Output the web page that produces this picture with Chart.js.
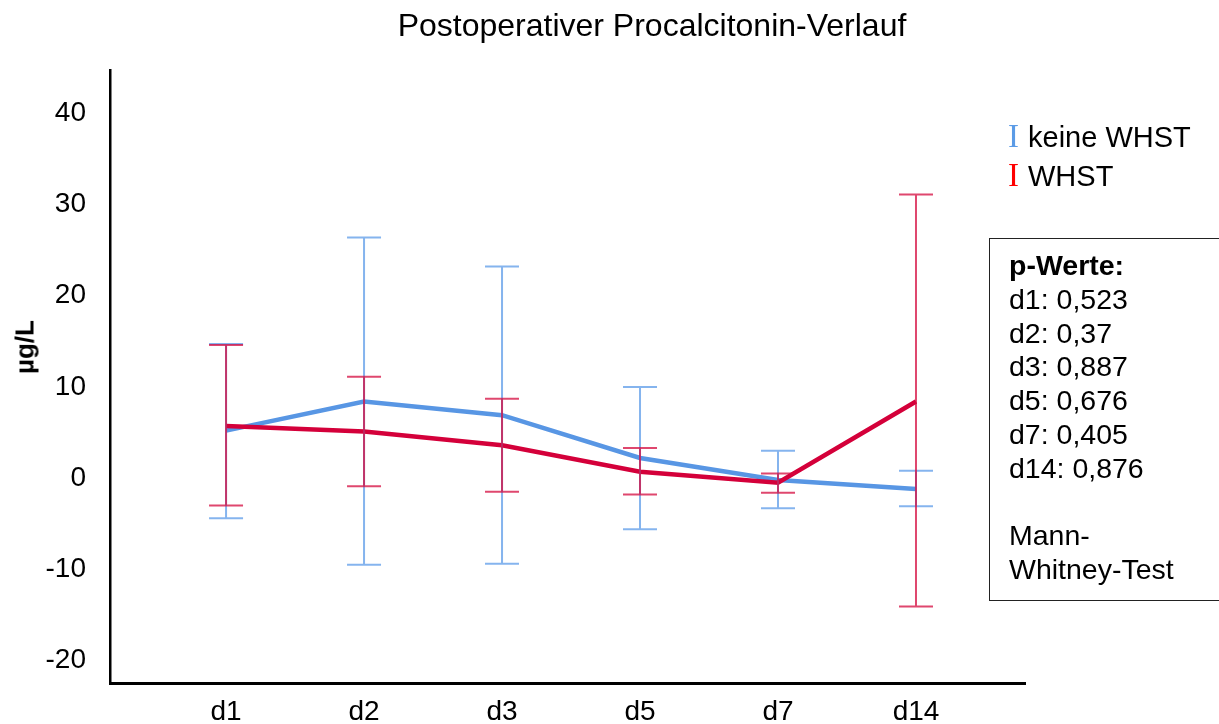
<!DOCTYPE html>
<html>
<head>
<meta charset="utf-8">
<script src="https://cdn.jsdelivr.net/npm/chart.js@4.4.1/dist/chart.umd.min.js"></script>
<style>
  html, body { margin: 0; padding: 0; background: #fff; }
  #wrap { position: relative; width: 1219px; height: 724px; overflow: hidden; font-family: "Liberation Sans", Arial, sans-serif; color: #000; }
  #c { position: absolute; left: 0; top: 0; }
  #title { position: absolute; left: 652px; top: 7px; transform: translateX(-50%); font-size: 32px; white-space: nowrap; }
  #ytitle { position: absolute; left: 25px; top: 347px; transform: translate(-50%, -50%) rotate(-90deg); font-size: 26px; font-weight: bold; white-space: nowrap; }
  #legend { position: absolute; left: 1008px; top: 117px; font-size: 29px; line-height: 38px; white-space: nowrap; }
  #legend .mk { font-family: "Liberation Serif", "DejaVu Serif", serif; font-size: 33px; margin-right: 9px; }
  #pbox { position: absolute; left: 989px; top: 238px; width: 250px; height: 363px; border: 1.5px solid #222; box-sizing: border-box; padding: 10px 0 0 19px; font-size: 28.5px; line-height: 33.8px; white-space: nowrap; }
</style>
</head>
<body>
<div id="wrap">
  <canvas id="c" width="1219" height="724"></canvas>
  <div id="title">Postoperativer Procalcitonin-Verlauf</div>
  <div id="ytitle">µg/L</div>
  <div id="legend">
    <div><span class="mk" style="color:#5b9be6">I</span>keine WHST</div>
    <div><span class="mk" style="color:#ff0000">I</span>WHST</div>
  </div>
  <div id="pbox">
    <b>p-Werte:</b><br>
    d1: 0,523<br>
    d2: 0,37<br>
    d3: 0,887<br>
    d5: 0,676<br>
    d7: 0,405<br>
    d14: 0,876<br>
    <br>
    Mann-<br>
    Whitney-Test
  </div>
</div>
<script>
const categories = ['d1', 'd2', 'd3', 'd5', 'd7', 'd14'];
const yTickValues = [-20, -10, 0, 10, 20, 30, 40];

const keineMean  = [5.2, 8.4, 6.9, 2.2, -0.2, -1.2];
const keineUpper = [14.7, 26.4, 23.2, 10.0, 3.0, 0.8];
const keineLower = [-4.4, -9.5, -9.4, -5.6, -3.3, -3.1];

const whstMean  = [5.7, 5.1, 3.6, 0.7, -0.5, 8.4];
const whstUpper = [14.6, 11.1, 8.7, 3.3, 0.5, 31.1];
const whstLower = [-3.0, -0.9, -1.5, -1.8, -1.6, -14.1];

const errorBarPlugin = {
  id: 'errorBars',
  afterDatasetsDraw(chart) {
    const ctx = chart.ctx;
    const xs = chart.scales.x, ys = chart.scales.y;
    chart.data.datasets.forEach((ds) => {
      if (!ds.errUpper) return;
      ctx.save();
      ctx.strokeStyle = ds.errColor;
      ctx.lineWidth = 2;
      ds.errUpper.forEach((up, i) => {
        const x = xs.getPixelForValue(i);
        const yt = ys.getPixelForValue(up);
        const yb = ys.getPixelForValue(ds.errLower[i]);
        const half = 17;
        ctx.beginPath();
        ctx.moveTo(x, yt); ctx.lineTo(x, yb);
        ctx.moveTo(x - half, yt); ctx.lineTo(x + half, yt);
        ctx.moveTo(x - half, yb); ctx.lineTo(x + half, yb);
        ctx.stroke();
      });
      ctx.restore();
    });
  }
};

const font = { family: '"Liberation Sans", Arial, sans-serif', size: 28 };

new Chart(document.getElementById('c'), {
  type: 'line',
  data: {
    datasets: [
      {
        label: 'keine WHST',
        data: keineMean.map((v, i) => ({ x: i, y: v })),
        borderColor: '#5896e4',
        borderWidth: 4.5,
        pointRadius: 0,
        tension: 0,
        order: 2,
        errUpper: keineUpper,
        errLower: keineLower,
        errColor: 'rgba(92,155,232,0.75)'
      },
      {
        label: 'WHST',
        data: whstMean.map((v, i) => ({ x: i, y: v })),
        borderColor: '#d4003a',
        borderWidth: 4.5,
        pointRadius: 0,
        tension: 0,
        order: 1,
        errUpper: whstUpper,
        errLower: whstLower,
        errColor: 'rgba(212,10,62,0.75)'
      }
    ]
  },
  options: {
    responsive: false,
    animation: false,
    events: [],
    layout: { padding: { left: 0, top: 70, right: 194, bottom: 0 } },
    plugins: { legend: { display: false }, title: { display: false }, tooltip: { enabled: false } },
    scales: {
      x: {
        type: 'linear',
        min: -0.841,
        max: 5.79,
        grid: { display: false, drawTicks: false },
        border: { display: true, color: '#000', width: 3 },
        afterBuildTicks: (s) => { s.ticks = categories.map((c, i) => ({ value: i })); },
        afterFit: (s) => { s.height = 39; },
        ticks: {
          autoSkip: false, maxRotation: 0, padding: 12, color: '#000', font: font,
          callback: (v) => categories[v]
        }
      },
      y: {
        type: 'linear',
        min: -22.5,
        max: 44.76,
        grid: { display: false, drawTicks: false },
        border: { display: true, color: '#000', width: 2.5 },
        afterBuildTicks: (s) => { s.ticks = yTickValues.map(v => ({ value: v })); },
        afterFit: (s) => { s.width = 110; },
        ticks: { padding: 24, color: '#000', font: font, callback: (v) => String(v) }
      }
    }
  },
  plugins: [errorBarPlugin]
});
</script>
</body>
</html>
